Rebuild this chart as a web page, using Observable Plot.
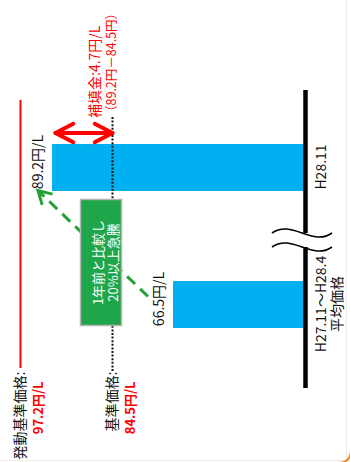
<!DOCTYPE html>
<html><head><meta charset="utf-8">
<script src="https://cdn.jsdelivr.net/npm/d3@7"></script>
<script src="https://cdn.jsdelivr.net/npm/@observablehq/plot@0.6"></script>
<style>
html,body{margin:0;padding:0;background:#fff;width:350px;height:462px;overflow:hidden;position:relative;}
#wrap{position:absolute;left:0;top:0;width:462px;height:350px;transform-origin:0 0;transform:translate(0,462px) rotate(-90deg);}
#edgeR{position:absolute;left:346px;top:0;width:1px;height:462px;background:#ececec;}
#edgeB{position:absolute;left:0;top:460px;width:350px;height:1px;background:#f6e9e1;}
#corner{position:absolute;left:300px;top:400px;width:52px;height:64px;box-sizing:border-box;border-right:2px solid #f08a24;border-bottom:2px solid #f08a24;border-bottom-right-radius:13px;}
</style>
</head><body>
<div id="edgeR"></div><div id="edgeB"></div><div id="corner"></div>
<div id="wrap"></div>
<script>
// ---- data ----
const categories = ["H27.11～H28.4\n平均価格", "H28.11"];
const prices = [66.5, 89.2];
const priceLabels = ["66.5円/L", "89.2円/L"];
const refNames = ["発動基準価格:", "基準価格:"];
const refValues = [97.2, 84.5];
const refValueLabels = ["97.2円/L", "84.5円/L"];
const subsidyTitle = "補填金:4.7円/L";
const subsidyCalc = "（89.2円－84.5円）";
const noteText = "1年前と比較し\n20%以上急騰";

const bars = categories.map((c, i) => ({c, v: prices[i], label: priceLabels[i]}));
const refs = refNames.map((n, i) => ({name: n, v: refValues[i], label: refValueLabels[i]}));
const gap = [{c: categories[1], from: refValues[1], to: prices[1]}];

const red = "#ff0000", blue = "#00b0f0", green = "#1fa64b", arrowGreen = "#24a236";

function breakMark(index, {x, y}) {
  const bw = x.bandwidth ? x.bandwidth() : 0;
  const mid = (x(categories[0]) + bw + x(categories[1])) / 2 - 4;
  const base = y(0), y0 = base - 3, L = 30, k = 14, h = 7;
  const g = d3.create("svg:g");
  g.append("rect").attr("x", mid - h).attr("y", base - 6).attr("width", 2 * h).attr("height", 12).attr("fill", "white");
  for (const cx of [mid - h, mid + h]) {
    g.append("path")
      .attr("d", `M${cx},${y0 - L}C${cx + k},${y0 - L / 3} ${cx - k},${y0 + L / 3} ${cx},${y0 + L}`)
      .attr("fill", "none").attr("stroke", "black").attr("stroke-width", 1.6);
  }
  return g.node();
}

function trendArrow(index, {x, y}) {
  const bw = x.bandwidth ? x.bandwidth() : 0;
  const x1 = x(categories[0]) + bw / 2 + 8, y1 = y(prices[0]) - 25;
  const x2 = x(categories[1]) + bw / 2 - 23, y2 = y(prices[1]) - 14;
  const a = Math.atan2(y2 - y1, x2 - x1), w = 15, s = Math.PI / 6;
  const g = d3.create("svg:g").attr("stroke", arrowGreen).attr("stroke-width", 3).attr("fill", "none");
  g.append("line").attr("x1", x1).attr("y1", y1)
    .attr("x2", x2 - 2 * Math.cos(a)).attr("y2", y2 - 2 * Math.sin(a))
    .attr("stroke-dasharray", "11,7");
  g.append("path")
    .attr("d", `M${x2 - w * Math.cos(a - s)},${y2 - w * Math.sin(a - s)}L${x2},${y2}L${x2 - w * Math.cos(a + s)},${y2 - w * Math.sin(a + s)}`);
  return g.node();
}

const chart = Plot.plot({
  width: 462, height: 350,
  marginLeft: 42, marginRight: 53, marginTop: 0, marginBottom: 45,
  style: {fontFamily: "'Noto Sans CJK JP','Noto Sans',sans-serif", fontSize: "14px", background: "transparent", overflow: "visible", color: "#000"},
  x: {type: "band", domain: categories, padding: 0.66, axis: null, label: null},
  y: {type: "linear", domain: [0, prices[0], refValues[1], prices[1], refValues[0]], range: [305, 173, 112, 52, 20], axis: null},
  marks: [
    Plot.ruleY([refs[0]], {y: "v", stroke: red, strokeWidth: 2, insetLeft: 52, insetRight: 47}),
    Plot.barY(bars, {x: "c", y: "v", fill: blue}),
    Plot.ruleY([refs[1]], {y: "v", stroke: "#111", strokeWidth: 2, strokeDasharray: "2,1.6", insetLeft: 49, insetRight: 64}),
    Plot.ruleY([0], {stroke: "black", strokeWidth: 4.5, insetLeft: 32, insetRight: 37}),
    breakMark,
    Plot.axisX({tickSize: 0, tickPadding: 10, fontSize: 14, lineHeight: 1.1, fill: "#111", label: null}),
    Plot.text(bars, {x: "c", y: "v", text: "label", dx: 5, dy: -14, fontSize: 14, fill: "#111"}),
    Plot.text(refs, {y: "v", text: "name", frameAnchor: "left", textAnchor: "end", dx: 48, fontSize: 14, fill: "#111"}),
    Plot.text(refs, {y: "v", text: "label", frameAnchor: "left", textAnchor: "end", dx: 38, dy: 18, fontSize: 13, fontWeight: "bold", fill: red}),
    trendArrow,
    Plot.frame({fill: green, stroke: "#b5b5b5", strokeWidth: 1.5, insetLeft: 94, insetRight: 147, insetTop: 80, insetBottom: 184}),
    Plot.text([noteText], {text: d => d, frameAnchor: "middle", dx: -26.5, dy: -47, fill: "white", fontSize: 13, lineHeight: 1.15}),
    Plot.arrow(gap, {x1: "c", x2: "c", y1: "from", y2: "to", stroke: red, strokeWidth: 4, dx: 34, insetEnd: 3, headLength: 8, headAngle: 55}),
    Plot.arrow(gap, {x1: "c", x2: "c", y1: "to", y2: "from", stroke: red, strokeWidth: 4, dx: 34, insetStart: 3, headLength: 8, headAngle: 55}),
    Plot.text(gap, {x: "c", y: "from", text: () => subsidyTitle, textAnchor: "start", dx: 49, dy: -17, fill: red, fontSize: 14}),
    Plot.text(gap, {x: "c", y: "from", text: () => subsidyCalc, textAnchor: "start", dx: 49, dy: -1, fill: red, fontSize: 12.5})
  ]
});
document.getElementById("wrap").append(chart);
</script>
</body></html>
